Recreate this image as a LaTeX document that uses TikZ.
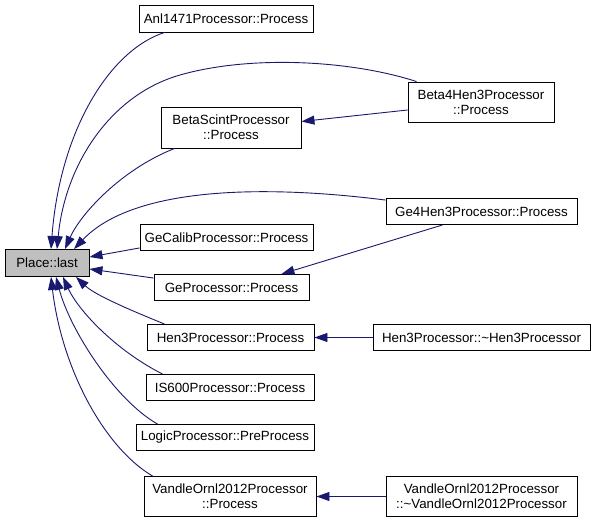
\documentclass[tikz,border=0pt]{standalone}
\usepackage{fontspec}
\setmainfont{Liberation Sans}
\usetikzlibrary{arrows.meta}
\definecolor{edgeblue}{HTML}{191970}
\definecolor{placegray}{HTML}{BFBFBF}
\tikzset{
  fn/.style={draw=black, line width=0.9pt, fill=white, inner sep=0pt,
    font=\fontsize{13.33}{15}\selectfont, align=center},
  cg/.style={draw=edgeblue, line width=0.9pt,
    -{Triangle[length=13pt,width=9pt,fill=edgeblue]}}
}
\begin{document}
\begin{tikzpicture}[x=1pt,y=-1pt]
\useasboundingbox[fill=white] (0,0) rectangle (595,525);
% nodes
\node[fn, fill=placegray, minimum width=84pt, minimum height=27pt] (place) at (47,263) {Place::last};
\node[fn, minimum width=174pt, minimum height=27pt] (anl) at (226,18.5) {Anl1471Processor::Process};
\node[fn, minimum width=146pt, minimum height=40pt] (beta4) at (481,102) {Beta4Hen3Processor\\::Process};
\node[fn, minimum width=140pt, minimum height=41pt] (betasc) at (231,127.5) {BetaScintProcessor\\::Process};
\node[fn, minimum width=191pt, minimum height=26pt] (ge4) at (481.5,211.5) {Ge4Hen3Processor::Process};
\node[fn, minimum width=173pt, minimum height=26pt] (gecal) at (226.5,237.5) {GeCalibProcessor::Process};
\node[fn, minimum width=155pt, minimum height=26pt] (gep) at (231.5,287.5) {GeProcessor::Process};
\node[fn, minimum width=167pt, minimum height=26pt] (hen3) at (230.5,337.5) {Hen3Processor::Process};
\node[fn, minimum width=217pt, minimum height=26pt] (hen3d) at (481.5,337.5) {Hen3Processor::\textasciitilde Hen3Processor};
\node[fn, minimum width=168pt, minimum height=26pt] (is600) at (230,387.5) {IS600Processor::Process};
\node[fn, minimum width=178pt, minimum height=26pt] (logic) at (225,437.5) {LogicProcessor::PreProcess};
\node[fn, minimum width=172pt, minimum height=40pt] (vandle) at (230,496.5) {VandleOrnl2012Processor\\::Process};
\node[fn, minimum width=191pt, minimum height=40pt] (vandled) at (481.5,496.5) {VandleOrnl2012Processor\\::\textasciitilde VandleOrnl2012Processor};
% edges into Place::last (top)
\draw[cg] ([xshift=26pt]anl.south west) .. controls (110,50) and (60,130) .. ([xshift=4pt]place.north);
\draw[cg] ([xshift=9pt]beta4.north west) .. controls (350,60) and (250,55) .. (180,75)
  .. controls (110,95) and (65,165) .. ([xshift=10pt]place.north);
\draw[cg] ([xshift=14pt]betasc.south west) .. controls (120,170) and (80,215) .. ([xshift=18pt]place.north);
\draw[cg] ([yshift=-2pt]ge4.north west) .. controls (250,183) and (130,190) .. ([xshift=27pt]place.north);
% edges into Place::last (right)
\draw[cg] ([yshift=3pt]gecal.south west) -- ([yshift=6pt]place.east);
\draw[cg] ([yshift=-4pt]gep.north west) -- ([yshift=-6pt]place.east);
% edges into Place::last (bottom)
\draw[cg] ([xshift=18pt]hen3.north west) .. controls (130,310) and (95,295) .. ([xshift=29pt]place.south);
\draw[cg] ([xshift=17pt]is600.north west) .. controls (115,350) and (78,310) .. ([xshift=16pt]place.south);
\draw[cg] ([xshift=22pt]logic.north west) .. controls (115,400) and (70,330) .. ([xshift=9pt]place.south);
\draw[cg] ([xshift=9pt]vandle.north west) .. controls (105,448) and (62,370) .. ([xshift=4pt]place.south);
% other edges
\draw[cg] ([yshift=-8pt]beta4.west) -- ([yshift=6pt]betasc.east);
\draw[cg] ([xshift=57pt]ge4.south west) -- ([xshift=-28pt]gep.north east);
\draw[cg] (hen3d.west) -- (hen3.east);
\draw[cg] (vandled.west) -- (vandle.east);
\end{tikzpicture}
\end{document}
